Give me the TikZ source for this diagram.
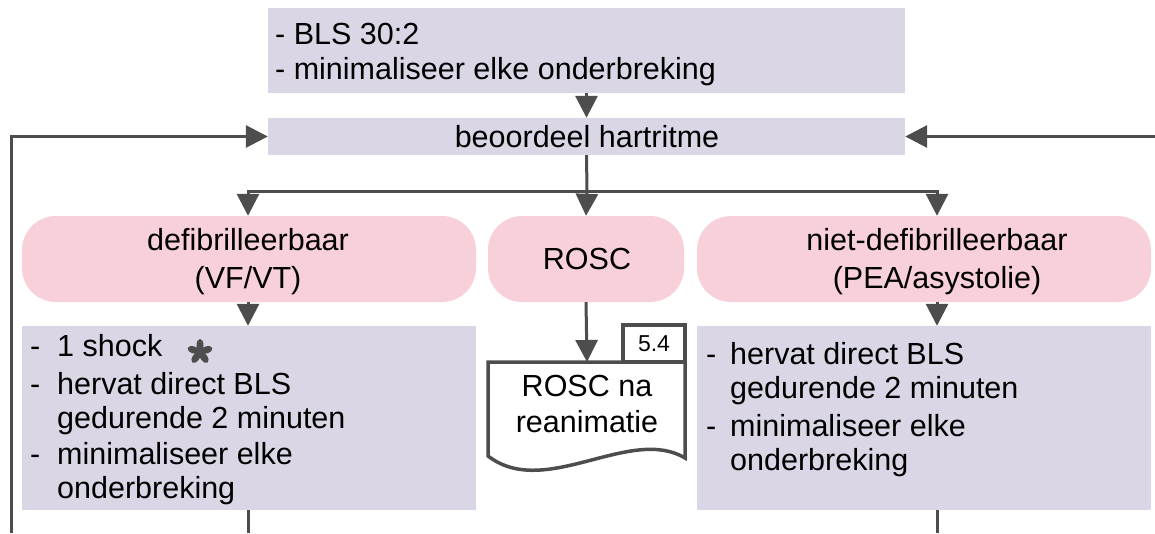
\documentclass[tikz,border=0pt]{standalone}
\usepackage{fontspec}
\setmainfont{Liberation Sans}
\usetikzlibrary{arrows.meta}
\definecolor{lav}{HTML}{DAD6E6}
\definecolor{pillpink}{HTML}{F8D0DA}
\definecolor{ink}{HTML}{4D4D4D}
\begin{document}
\begin{tikzpicture}[x=1pt,y=-1pt,
  box/.style={fill=lav, inner sep=0pt},
  pill/.style={fill=pillpink, inner sep=0pt, rounded corners=34pt},
  txt/.style={inner sep=0pt, font=\fontsize{30.5}{36}\selectfont},
  conn/.style={draw=ink, line width=3pt},
  arr/.style={conn, -{Triangle[length=22pt,width=22pt]}},
  docline/.style={draw=ink, line width=3.5pt, fill=white, line join=miter}]
\useasboundingbox (0,0) rectangle (1155,533);

% boxes
\node[box, minimum width=637pt, minimum height=85pt] (top) at (586.5,50.5) {};
\node[box, minimum width=637pt, minimum height=37pt] (hart) at (586.5,136.5) {};
\node[pill, minimum width=454pt, minimum height=86pt] (pillL) at (249,259) {};
\node[pill, minimum width=196pt, minimum height=86pt] (pillM) at (586,259) {};
\node[pill, minimum width=454pt, minimum height=86pt] (pillR) at (924,259) {};
\node[box, minimum width=454pt, minimum height=184pt] (boxL) at (249,418) {};
\node[box, minimum width=454pt, minimum height=184pt] (boxR) at (924,418) {};

% texts
\node[txt, anchor=base west] (t1) at (275,44) {- BLS 30:2};
\node[txt, anchor=base west] (t2) at (275,79) {- minimaliseer elke onderbreking};
\node[txt, anchor=base] (th) at (587,147) {beoordeel hartritme};
\node[txt, anchor=base] (tL1) at (248,250) {defibrilleerbaar};
\node[txt, anchor=base] (tL2) at (248,288) {(VF/VT)};
\node[txt, anchor=base] (tM) at (587,269) {ROSC};
\node[txt, anchor=base] (tR1) at (937,250) {niet-defibrilleerbaar};
\node[txt, anchor=base] (tR2) at (937,288) {(PEA/asystolie)};

% left list
\node[txt, anchor=base west] (lA0) at (30,356) {-};
\node[txt, anchor=base west] (lA) at (57,356) {1 shock};
\node[txt, anchor=base west] (lB0) at (30,394) {-};
\node[txt, anchor=base west] (lB) at (57,394) {hervat direct BLS};
\node[txt, anchor=base west] (lC) at (57,428) {gedurende 2 minuten};
\node[txt, anchor=base west] (lD0) at (30,464) {-};
\node[txt, anchor=base west] (lD) at (57,464) {minimaliseer elke};
\node[txt, anchor=base west] (lE) at (57,498) {onderbreking};

% right list
\node[txt, anchor=base west] (rA0) at (706,364) {-};
\node[txt, anchor=base west] (rA) at (730,364) {hervat direct BLS};
\node[txt, anchor=base west] (rB) at (730,398) {gedurende 2 minuten};
\node[txt, anchor=base west] (rC0) at (706,436) {-};
\node[txt, anchor=base west] (rC) at (730,436) {minimaliseer elke};
\node[txt, anchor=base west] (rD) at (730,470) {onderbreking};

% five-petal asterisk
\begin{scope}[shift={(200,352)}]
  \fill[ink] (0,0) circle (3pt);
  \foreach \a in {90,162,234,306,18}
    \fill[ink, rotate=\a] (6.8,0) ellipse (6.2pt and 3.5pt);
\end{scope}

% document with tab
\draw[docline] (623,362) rectangle (685,325);
\node[inner sep=0pt, font=\fontsize{23}{27}\selectfont] (tab) at (654,344) {5.4};
\draw[docline] (488,362) -- (685,362) -- (685,458)
  .. controls (630,425) and (545,500) .. (488,456) -- cycle;
\coordinate (doctop) at (587,362);
\node[txt, anchor=base] (d1) at (587,396) {ROSC na};
\node[txt, anchor=base] (d2) at (587,432) {reanimatie};

% connectors
\draw[arr] (top.south) -- (hart.north);
\coordinate (fork) at (587,191);
\draw[conn] (hart.south) -- (fork);
\draw[arr] (fork) -| (tL1 |- pillL.north);
\draw[arr] (fork) -- (pillM.north);
\draw[arr] (fork) -| (tR1 |- pillR.north);
\draw[arr] (tL1 |- pillL.south) -- (tL1 |- boxL.north);
\draw[arr] (pillM.south) -- (doctop);
\draw[arr] (tR1 |- pillR.south) -- (tR1 |- boxR.north);

\coordinate (loopL) at (11,533);
\coordinate (loopR) at (1155,136.5);
\draw[arr] (loopL) |- (hart.west);
\draw[arr] (loopR) -- (hart.east);
\draw[conn] (tL1 |- boxL.south) -- (tL1 |- loopL);
\draw[conn] (tR1 |- boxR.south) -- (tR1 |- loopL);
\end{tikzpicture}
\end{document}
